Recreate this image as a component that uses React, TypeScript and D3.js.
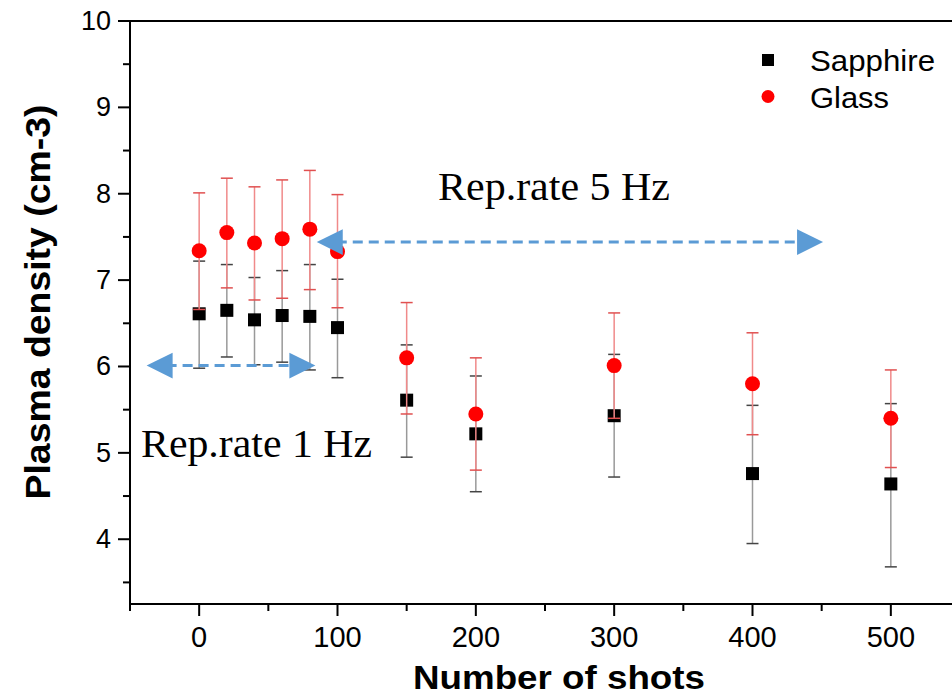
import React from "react";
import * as d3 from "d3";

const shots = [0, 20, 40, 60, 80, 100, 150, 200, 300, 400, 500];
const sapphire = [6.61, 6.65, 6.54, 6.59, 6.58, 6.45, 5.61, 5.22, 5.43, 4.76, 4.64];
const sapphireUpper = [7.22, 7.18, 7.03, 7.11, 7.18, 7.01, 6.25, 5.89, 6.14, 5.55, 5.57];
const sapphireLower = [5.98, 6.11, 6.02, 6.05, 5.96, 5.87, 4.95, 4.55, 4.72, 3.95, 3.68];
const glass = [7.34, 7.55, 7.43, 7.48, 7.59, 7.33, 6.1, 5.45, 6.01, 5.8, 5.4];
const glassUpper = [8.01, 8.18, 8.08, 8.16, 8.27, 7.99, 6.74, 6.1, 6.62, 6.39, 5.96];
const glassLower = [6.66, 6.91, 6.77, 6.79, 6.89, 6.68, 5.45, 4.8, 5.4, 5.21, 4.83];

const xTicks = [0, 100, 200, 300, 400, 500];
const xMinorTicks = [-50, 50, 150, 250, 350, 450];
const yTicks = [4, 5, 6, 7, 8, 9, 10];
const yMinorTicks = [3.5, 4.5, 5.5, 6.5, 7.5, 8.5, 9.5];

const legendLabels = ["Sapphire", "Glass"];
const annotationLabels = ["Rep.rate 5 Hz", "Rep.rate 1 Hz"];
// arrows: [x0, x1, y] in data units
const arrow1 = [-38, 84, 6.01];
const arrow2 = [85, 451, 7.44];

const W = 952;
const H = 696;

export default function App() {
  const x = d3.scaleLinear().domain([-50, 550]).range([130, 960]);
  const y = d3.scaleLinear().domain([3.25, 10]).range([604, 21]);
  const blue = "#5b9bd5";
  const capW = 6;

  const arrowHead = (tipX: number, tipY: number, dir: number) => {
    const len = 26;
    const half = 12.8;
    const p = d3.path();
    p.moveTo(tipX, tipY);
    p.lineTo(tipX - dir * len, tipY - half);
    p.lineTo(tipX - dir * len, tipY + half);
    p.closePath();
    return p.toString();
  };

  const drawArrow = (a: number[], key: string) => {
    const x0 = x(a[0]);
    const x1 = x(a[1]);
    const yy = y(a[2]);
    return (
      <g key={key}>
        <line x1={x0 + 20} x2={x1 - 20} y1={yy} y2={yy} stroke={blue} strokeWidth={3} strokeDasharray="10 6" />
        <path d={arrowHead(x0, yy, -1)} fill={blue} />
        <path d={arrowHead(x1, yy, 1)} fill={blue} />
      </g>
    );
  };

  return (
    <svg width={W} height={H} style={{ position: "absolute", left: 0, top: 0, background: "#fff" }}
      fontFamily="'Liberation Sans', Arial, sans-serif">
      <rect x={0} y={0} width={W} height={H} fill="#fff" />
      {/* frame */}
      <line x1={x(-50)} x2={W} y1={y(10)} y2={y(10)} stroke="#000" strokeWidth={2} />
      <line x1={x(-50)} x2={W} y1={y(3.25)} y2={y(3.25)} stroke="#000" strokeWidth={2} />
      <line x1={x(-50)} x2={x(-50)} y1={y(10) - 1} y2={y(3.25) + 1} stroke="#000" strokeWidth={2} />
      {/* y ticks */}
      {yTicks.map((t) => (
        <g key={"yt" + t}>
          <line x1={x(-50) - 12} x2={x(-50)} y1={y(t)} y2={y(t)} stroke="#000" strokeWidth={2} />
          <text x={111} y={y(t)} textAnchor="end" dominantBaseline="central" fontSize={27}>{t}</text>
        </g>
      ))}
      {yMinorTicks.map((t) => (
        <line key={"ym" + t} x1={x(-50) - 7} x2={x(-50)} y1={y(t)} y2={y(t)} stroke="#000" strokeWidth={2} />
      ))}
      {/* x ticks */}
      {xTicks.map((t) => (
        <g key={"xt" + t}>
          <line x1={x(t)} x2={x(t)} y1={y(3.25)} y2={y(3.25) + 12} stroke="#000" strokeWidth={2} />
          <text x={x(t)} y={647} textAnchor="middle" fontSize={29}>{t}</text>
        </g>
      ))}
      {xMinorTicks.map((t) => (
        <line key={"xm" + t} x1={x(t)} x2={x(t)} y1={y(3.25)} y2={y(3.25) + 7} stroke="#000" strokeWidth={2} />
      ))}
      {/* axis titles */}
      <text x={559} y={689} textAnchor="middle" fontSize={33} fontWeight="bold" textLength={292} lengthAdjust="spacingAndGlyphs">
        Number of shots
      </text>
      <text transform="translate(50,302) rotate(-90)" textAnchor="middle" fontSize={35} fontWeight="bold" textLength={395} lengthAdjust="spacingAndGlyphs">
        Plasma density (cm-3)
      </text>
      {/* sapphire error bars */}
      {shots.map((s, i) => (
        <g key={"se" + i}>
          <line x1={x(s)} x2={x(s)} y1={y(sapphireUpper[i])} y2={y(sapphireLower[i])} stroke="#999" strokeWidth={1.5} />
          <line x1={x(s) - capW} x2={x(s) + capW} y1={y(sapphireUpper[i])} y2={y(sapphireUpper[i])} stroke="#444" strokeWidth={1.5} />
          <line x1={x(s) - capW} x2={x(s) + capW} y1={y(sapphireLower[i])} y2={y(sapphireLower[i])} stroke="#444" strokeWidth={1.5} />
        </g>
      ))}
      {shots.map((s, i) => (
        <rect key={"sm" + i} x={x(s) - 6.5} y={y(sapphire[i]) - 6.5} width={13} height={13} fill="#000" />
      ))}
      {/* glass error bars */}
      {shots.map((s, i) => (
        <g key={"ge" + i}>
          <line x1={x(s)} x2={x(s)} y1={y(glassUpper[i])} y2={y(glassLower[i])} stroke="#f08a8a" strokeWidth={1.5} />
          <line x1={x(s) - capW} x2={x(s) + capW} y1={y(glassUpper[i])} y2={y(glassUpper[i])} stroke="#e05050" strokeWidth={1.5} />
          <line x1={x(s) - capW} x2={x(s) + capW} y1={y(glassLower[i])} y2={y(glassLower[i])} stroke="#e05050" strokeWidth={1.5} />
        </g>
      ))}
      {shots.map((s, i) => (
        <circle key={"gm" + i} cx={x(s)} cy={y(glass[i])} r={7.5} fill="#ff0000" />
      ))}
      {/* arrows */}
      {drawArrow(arrow1, "a1")}
      {drawArrow(arrow2, "a2")}
      {/* annotations */}
      <text x={438} y={200} fontFamily="'Liberation Serif', 'Times New Roman', serif" fontSize={40} textLength={232} lengthAdjust="spacingAndGlyphs">
        {annotationLabels[0]}
      </text>
      <text x={141} y={457} fontFamily="'Liberation Serif', 'Times New Roman', serif" fontSize={40} textLength={231} lengthAdjust="spacingAndGlyphs">
        {annotationLabels[1]}
      </text>
      {/* legend */}
      <rect x={762} y={54} width={12} height={12} fill="#000" />
      <text x={810} y={60} dominantBaseline="central" fontSize={30} textLength={125} lengthAdjust="spacingAndGlyphs">{legendLabels[0]}</text>
      <circle cx={768} cy={96.5} r={6.5} fill="#ff0000" />
      <text x={810} y={97} dominantBaseline="central" fontSize={30} textLength={79} lengthAdjust="spacingAndGlyphs">{legendLabels[1]}</text>
    </svg>
  );
}
